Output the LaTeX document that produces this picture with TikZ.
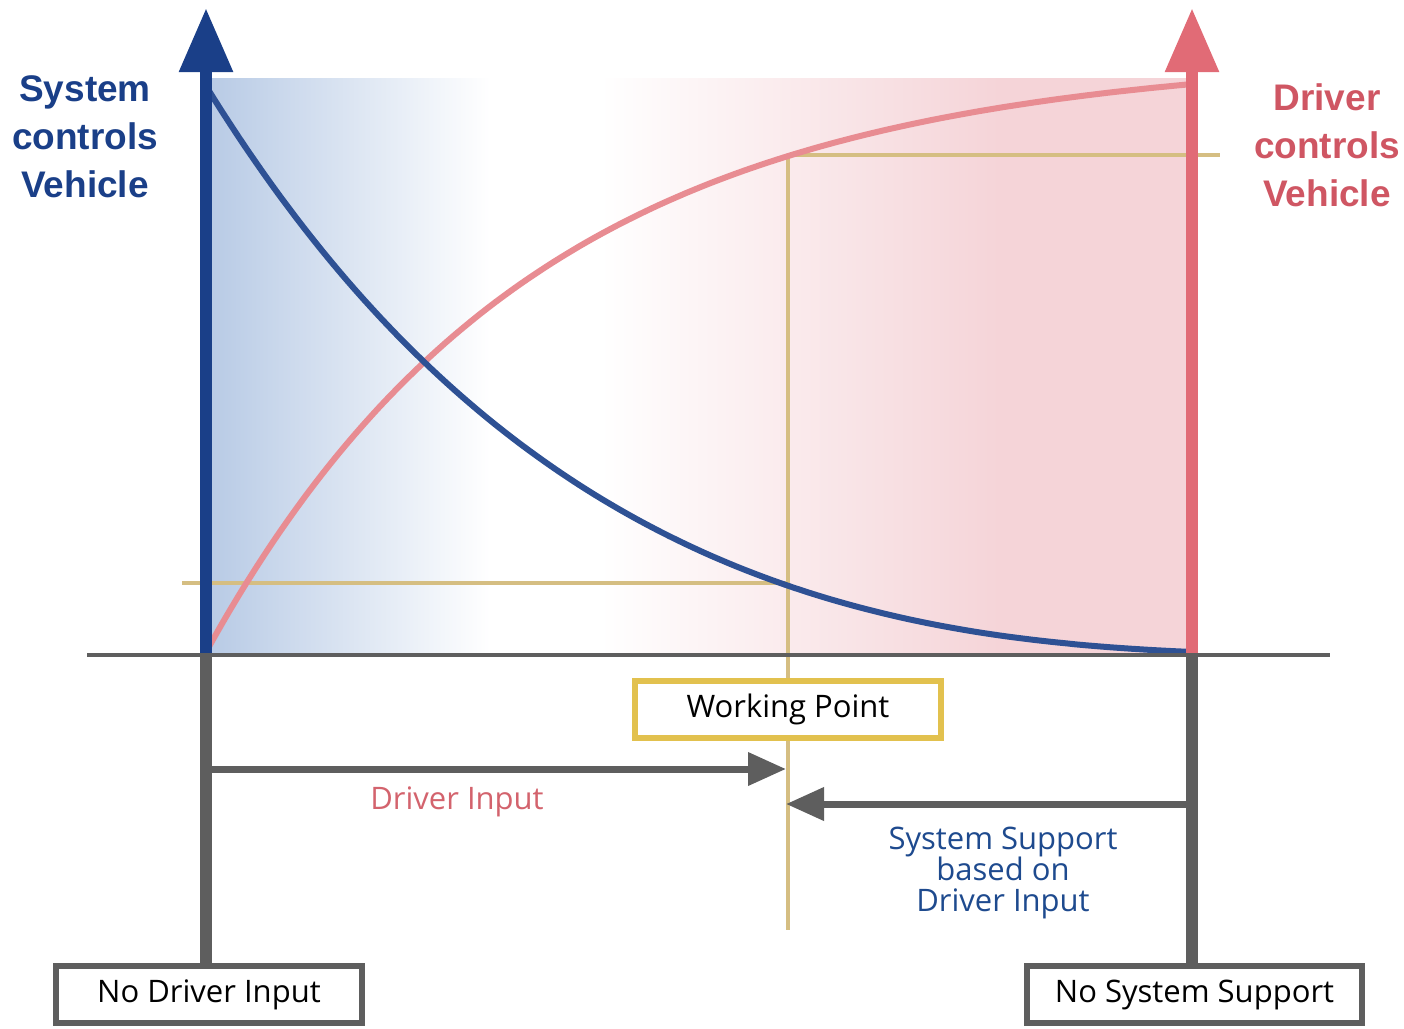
\documentclass[tikz,border=0pt]{standalone}
\usepackage{fontspec}
\setmainfont{Open Sans}
\newfontfamily\headfont{Liberation Sans}
\usetikzlibrary{arrows.meta}
\definecolor{navy}{HTML}{1A3F88}
\definecolor{bluecurve}{HTML}{2E5194}
\definecolor{blueL}{HTML}{B7CAE5}
\definecolor{redaxis}{HTML}{E16B76}
\definecolor{pinkcurve}{HTML}{E88C92}
\definecolor{pinkL}{HTML}{F5D4D8}
\definecolor{redhead}{HTML}{CF5663}
\definecolor{redlabel}{HTML}{D3636D}
\definecolor{bluelabel}{HTML}{1E4A8E}
\definecolor{greyline}{HTML}{5E5E5E}
\definecolor{yellowline}{HTML}{D5BE82}
\definecolor{yellowbox}{HTML}{E2C14E}
\tikzset{
  greybox/.style={draw=greyline, line width=6pt, fill=white, minimum width=#1, minimum height=57pt, inner sep=0pt, font=\fontsize{31}{36}\selectfont},
  wpbox/.style={draw=yellowbox, line width=6pt, fill=white, minimum width=306pt, minimum height=57pt, inner sep=0pt, font=\fontsize{31}{36}\selectfont},
  stem/.style={draw=greyline, line width=12pt},
  guide/.style={draw=yellowline, line width=4pt},
  ctrlarrow/.style={draw=greyline, line width=7pt, -{Triangle[length=38pt,width=32pt]}},
  headtext/.style={font=\headfont\bfseries\fontsize{37}{48}\selectfont, align=center},
  labeltext/.style={font=\fontsize{31}{31}\selectfont, align=center}
}
\begin{document}
\begin{tikzpicture}[x=1pt,y=-1pt]
\useasboundingbox (0,0) rectangle (1404,1028);
% background gradient
\shade[left color=blueL, right color=white] (206,78) rectangle (490,655);
\fill[white] (490,78) rectangle (600,655);
\shade[left color=white, right color=pinkL] (600,78) rectangle (1000,655);
\fill[pinkL] (1000,78) rectangle (1192,655);
% coordinates
\coordinate (L0) at (206,655);
\coordinate (Ltop) at (206,8);
\coordinate (R0) at (1192,655);
\coordinate (Rtop) at (1192,8);
\coordinate (gA) at (182,583);
\coordinate (gB) at (788,583);
\coordinate (gC) at (788,155);
\coordinate (gD) at (1220,155);
\coordinate (gE) at (788,930);
\coordinate (bl) at (87,655);
\coordinate (br) at (1330,655);
\coordinate (di0) at (206,769);
\coordinate (di1) at (786,769);
\coordinate (ss0) at (1192,804);
\coordinate (ss1) at (786,804);
% guide lines
\draw[guide] (gA) -- (gB);
\draw[guide] (gC) -- (gD);
\draw[guide] (gC) -- (gE);
% curves
\draw[pinkcurve, line width=6pt] plot[domain=0:1, samples=120, variable=\t] ({206+986*\t},{652-568*(1-exp(-3*\t))/(1-exp(-3))});
\draw[bluecurve, line width=6pt] plot[domain=0:0.999, samples=120, variable=\t] ({206+986*\t},{652-566*(0.5*(1-\t)^2.5+0.5*(exp(-3*\t)-exp(-3))/(1-exp(-3)))});
% axes
\draw[navy, line width=12pt, -{Triangle[length=64pt,width=51pt]}] (L0) -- (Ltop);
\draw[redaxis, line width=12pt, -{Triangle[length=64pt,width=51pt]}] (R0) -- (Rtop);
% baseline
\draw[greyline, line width=4pt] (bl) -- (br);
% boxes
\node[greybox=306pt] (ndi) at (209,994.5) {No Driver Input};
\node[greybox=335pt] (nss) at (1194.5,994.5) {No System Support};
\node[wpbox] (wp) at (788,709) {Working Point};
% stems
\draw[stem] (L0) -- (L0 |- ndi.north);
\draw[stem] (R0) -- (R0 |- nss.north);
% arrows
\draw[ctrlarrow] (di0) -- (di1);
\draw[ctrlarrow] (ss0) -- (ss1);
% labels
\node[labeltext, text=redlabel] (dilab) at (457,802) {Driver Input};
\node[labeltext, text=bluelabel] (sslab) at (1003,873) {System Support\\based on\\Driver Input};
\node[headtext, text=navy] (sysh) at (85,137) {System\\controls\\Vehicle};
\node[headtext, text=redhead] (drvh) at (1327,145) {Driver\\controls\\Vehicle};
\end{tikzpicture}
\end{document}
